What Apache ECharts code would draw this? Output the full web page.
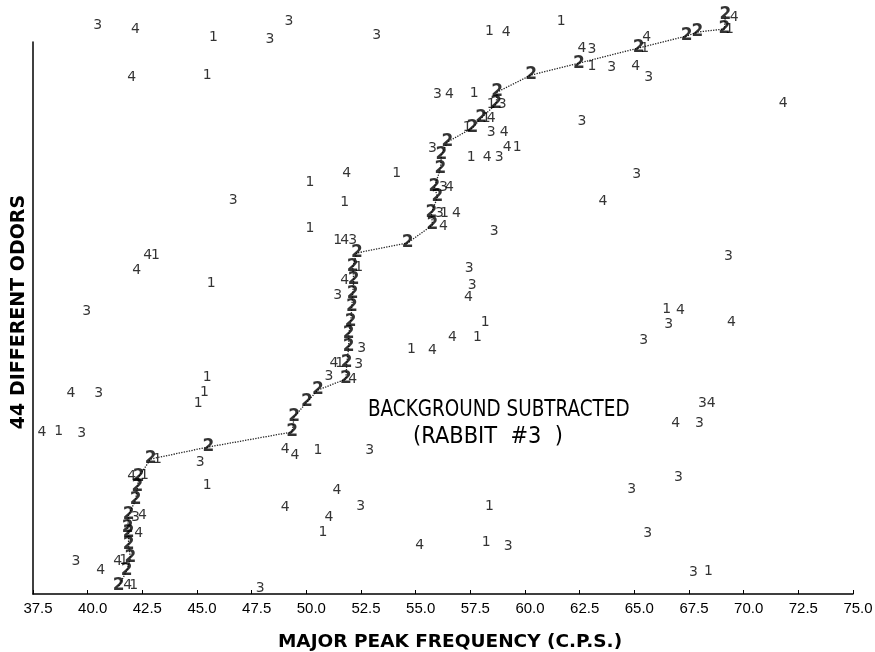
<!DOCTYPE html>
<html>
<head>
<meta charset="utf-8">
<script src="https://cdn.jsdelivr.net/npm/echarts@6/dist/echarts.min.js"></script>
<style>
html,body{margin:0;padding:0;background:#fff;}
#chart{width:875px;height:652px;}
</style>
</head>
<body>
<div id="chart"></div>
<script>
// x = major peak frequency (c.p.s.), y = odor rank (1 = bottom)
var xTicks = [37.5, 40.0, 42.5, 45.0, 47.5, 50.0, 52.5, 55.0, 57.5, 60.0, 62.5, 65.0, 67.5, 70.0, 72.5, 75.0];
var seriesNames = ['1', '2', '3', '4'];

var series2 = [
  [41.42,1.00],[41.78,2.13],[41.96,3.11],[41.87,4.09],[41.87,5.00],[41.83,5.37],[41.87,6.35],
  [42.19,7.48],[42.28,8.46],[42.33,9.22],[42.88,10.57],[45.52,11.48],[49.35,12.61],[49.44,13.74],
  [50.03,14.87],[50.53,15.77],[51.81,16.60],[51.85,17.81],[51.94,19.01],[51.94,19.99],[52.03,20.90],
  [52.08,22.03],[52.12,23.01],[52.17,24.06],[52.12,25.04],[52.31,26.10],[54.63,26.85],[55.77,28.21],
  [55.72,29.11],[56.00,30.32],[55.86,31.07],[56.13,32.43],[56.18,33.48],[56.45,34.46],[57.59,35.52],
  [58.00,36.27],[58.68,37.33],[58.73,38.23],[60.28,39.51],[62.47,40.41],[65.20,41.55],[67.39,42.45],
  [67.89,42.75],[69.12,42.98],[69.16,44.03]
];

var series1 = [
  [42.10,1.08],[41.65,2.96],[42.60,9.37],[43.19,10.57],[45.47,8.61],[38.68,12.68],[45.06,14.79],
  [45.34,15.62],[45.47,16.75],[50.53,11.25],[50.76,5.07],[51.53,17.81],[58.37,7.03],[58.23,4.32],
  [68.39,2.13],[54.81,18.86],[57.82,19.77],[58.18,20.90],[66.48,21.88],[45.65,23.84],[52.40,25.04],
  [43.10,25.95],[51.44,27.08],[50.17,27.98],[56.32,29.11],[51.76,29.94],[50.17,31.45],[54.13,32.13],
  [57.54,33.33],[59.64,34.09],[57.36,35.59],[58.23,36.27],[58.46,37.33],[57.68,38.15],[45.47,39.51],
  [63.06,40.19],[65.47,41.55],[45.75,42.37],[58.37,42.83],[69.35,42.98],[61.65,43.58]
];

var series3 = [
  [47.89,0.85],[39.46,2.89],[59.23,4.02],[67.70,2.06],[65.61,5.00],[52.49,7.03],[42.19,6.20],
  [64.88,8.31],[67.02,9.22],[45.15,10.35],[52.90,11.25],[39.73,12.53],[67.98,13.29],[68.12,14.79],
  [51.03,16.83],[52.40,17.73],[52.53,18.94],[65.43,19.54],[66.57,20.75],[40.51,15.55],[39.96,21.73],
  [51.44,22.93],[57.59,23.69],[57.45,24.97],[69.30,25.87],[52.12,27.08],[58.59,27.75],[56.09,29.11],
  [46.66,30.09],[56.27,31.07],[65.11,32.05],[55.77,34.01],[58.82,33.33],[58.46,35.22],[62.60,36.04],
  [58.96,37.33],[56.00,38.08],[65.66,39.36],[63.97,40.11],[63.06,41.47],[48.34,42.22],[53.22,42.53],
  [40.46,43.28],[49.21,43.58]
];

var series4 = [
  [41.83,1.08],[40.60,2.21],[41.37,2.89],[42.33,5.00],[55.18,4.09],[51.03,6.20],[42.51,6.35],
  [49.03,6.96],[51.40,8.24],[42.01,9.29],[49.03,11.33],[49.48,10.87],[37.91,12.61],[39.23,15.55],
  [66.89,13.29],[68.52,14.79],[52.12,16.60],[51.26,17.81],[55.77,18.79],[56.68,19.77],[69.44,20.90],
  [67.11,21.80],[57.41,22.78],[51.76,24.06],[42.24,24.82],[42.74,25.95],[51.76,27.08],[56.27,28.13],
  [56.86,29.11],[63.56,30.02],[56.54,31.07],[51.85,32.13],[58.27,33.33],[59.19,34.09],[59.05,35.22],
  [58.46,36.27],[71.81,37.40],[56.54,38.08],[42.01,39.36],[65.06,40.19],[62.60,41.55],[65.56,42.37],
  [42.19,42.98],[59.14,42.75],[69.57,43.88]
];

var digitFont = 'DejaVu Sans';

function digitSeries(name, data, bold) {
  return {
    name: name,
    type: 'scatter',
    data: data,
    clip: false,
    symbolSize: 1,
    itemStyle: { color: 'rgba(0,0,0,0)' },
    z: bold ? 4 : 3,
    label: {
      show: true,
      position: 'inside',
      formatter: name,
      color: '#000',
      fontFamily: digitFont,
      fontSize: bold ? 17 : 14,
      fontWeight: bold ? 'bold' : 'normal'
    },
    emphasis: { disabled: true }
  };
}

var chart = echarts.init(document.getElementById('chart'), null, { renderer: 'canvas' });
chart.setOption({
  animation: false,
  backgroundColor: '#fff',
  grid: { left: 33, right: 22, top: 42, bottom: 58, containLabel: false, outerBoundsMode: 'none' },
  xAxis: {
    type: 'value',
    min: xTicks[0],
    max: xTicks[xTicks.length - 1],
    interval: 2.5,
    name: 'MAJOR PEAK FREQUENCY (C.P.S.)',
    nameLocation: 'middle',
    nameGap: 39,
    nameTextStyle: { fontFamily: 'DejaVu Sans', fontWeight: 'bold', fontSize: 18.5, color: '#000', padding: [0, 0, 0, 14] },
    axisLine: { show: true, lineStyle: { color: '#000', width: 1.5 } },
    axisTick: { show: true, inside: true, length: 4, lineStyle: { color: '#000' } },
    axisLabel: {
      show: true,
      margin: 7,
      color: '#000',
      fontFamily: 'Liberation Sans',
      fontSize: 15,
      padding: [0, 0, 0, 10],
      formatter: function (v) { return v.toFixed(1); }
    },
    splitLine: { show: false }
  },
  yAxis: {
    type: 'value',
    min: 0.4,
    max: 42.0,
    name: '44 DIFFERENT ODORS',
    nameLocation: 'middle',
    nameRotate: 90,
    nameGap: 4,
    nameTextStyle: { fontFamily: 'DejaVu Sans', fontWeight: 'bold', fontSize: 19, color: '#000', padding: [0, 0, 0, 12] },
    axisLine: { show: true, lineStyle: { color: '#000', width: 1.5 } },
    axisTick: { show: false },
    axisLabel: { show: false },
    splitLine: { show: false }
  },
  graphic: [
    { type: 'text', x: 368, y: 410, scaleY: 1.25, style: { text: 'BACKGROUND SUBTRACTED', fontFamily: 'DejaVu Sans', fontSize: 18.4, fill: '#000', verticalAlign: 'middle' } },
    { type: 'text', x: 413, y: 437, scaleY: 1.1, style: { text: '(RABBIT  #3  )', fontFamily: 'DejaVu Sans', fontSize: 21, fill: '#000', verticalAlign: 'middle' } }
  ],
  series: [
    {
      name: 'trace',
      type: 'line',
      data: series2,
      clip: false,
      symbol: 'none',
      z: 1,
      lineStyle: { type: 'dotted', width: 1.3, color: '#222' },
      emphasis: { disabled: true }
    },
    digitSeries(seriesNames[0], series1, false),
    digitSeries(seriesNames[2], series3, false),
    digitSeries(seriesNames[3], series4, false),
    digitSeries(seriesNames[1], series2, true)
  ]
});
</script>
</body>
</html>
